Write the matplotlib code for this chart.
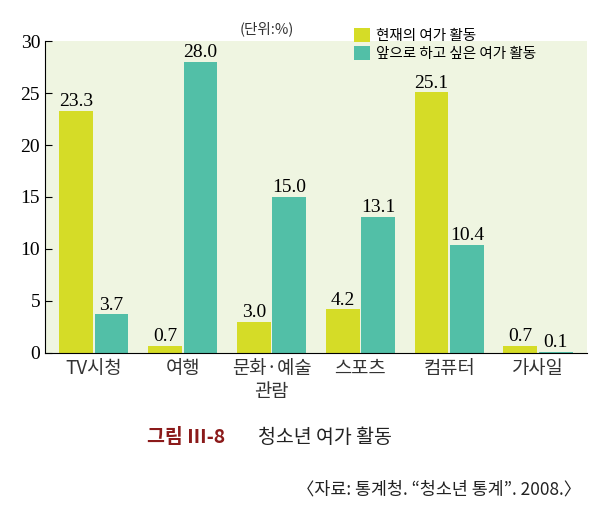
import matplotlib
matplotlib.use("Agg")
import matplotlib.pyplot as plt
import numpy as np

plt.rcParams['font.family'] = ['Noto Sans CJK KR', 'DejaVu Sans']

categories = ["TV시청", "여행", "문화·예술\n관람", "스포츠", "컴퓨터", "가사일"]
current = [23.3, 0.7, 3.0, 4.2, 25.1, 0.7]
future = [3.7, 28.0, 15.0, 13.1, 10.4, 0.1]
series_names = ["현재의 여가 활동", "앞으로 하고 싶은 여가 활동"]
yticks = [0, 5, 10, 15, 20, 25, 30]

c1, c2 = "#d5dc27", "#52bfa7"
fig = plt.figure(figsize=(5.99, 5.15), dpi=100)
ax = fig.add_axes([0.075, 0.315, 0.905, 0.605])
ax.set_facecolor("#eff5e1")
x = np.arange(len(categories))
w = 0.38
b1 = ax.bar(x - w/2 - 0.01, current, w, color=c1, label=series_names[0])
b2 = ax.bar(x + w/2 + 0.01, future, w, color=c2, label=series_names[1])
for bars, vals in ((b1, current), (b2, future)):
    for b, v in zip(bars, vals):
        ax.text(b.get_x() + b.get_width()/2, v + 0.05, f"{v:.1f}", ha="center", va="bottom",
                fontsize=14, family="Liberation Serif")
ax.set_ylim(0, 30)
ax.set_xlim(-0.55, 5.55)
ax.set_yticks(yticks)
ax.set_yticklabels([str(t) for t in yticks], family="Liberation Serif", fontsize=14)
ax.set_xticks(x)
ax.set_xticklabels(categories, fontsize=13.5, color="#333333", va="top", linespacing=1.1)
ax.tick_params(axis="y", direction="in", length=5)
ax.tick_params(axis="x", length=0, pad=4)
for s in ("top", "right"):
    ax.spines[s].set_visible(False)
ax.legend(loc="upper right", bbox_to_anchor=(0.93, 1.085), frameon=False, fontsize=10.5,
          handlelength=1.1, handleheight=1.1, labelspacing=0.2, handletextpad=0.4)
fig.text(0.40, 0.935, "(단위:%)", fontsize=10.5, color="#333333", ha="left")
fig.text(0.245, 0.14, "그림 Ⅲ-8", fontsize=14, color="#8b1a1a", fontweight="bold")
fig.text(0.43, 0.14, "청소년 여가 활동", fontsize=14, color="#222222")
fig.text(0.97, 0.04, "〈자료: 통계청. “청소년 통계”. 2008.〉", fontsize=12.5, ha="right", color="#222222")
fig.savefig("out.png", dpi=100)
